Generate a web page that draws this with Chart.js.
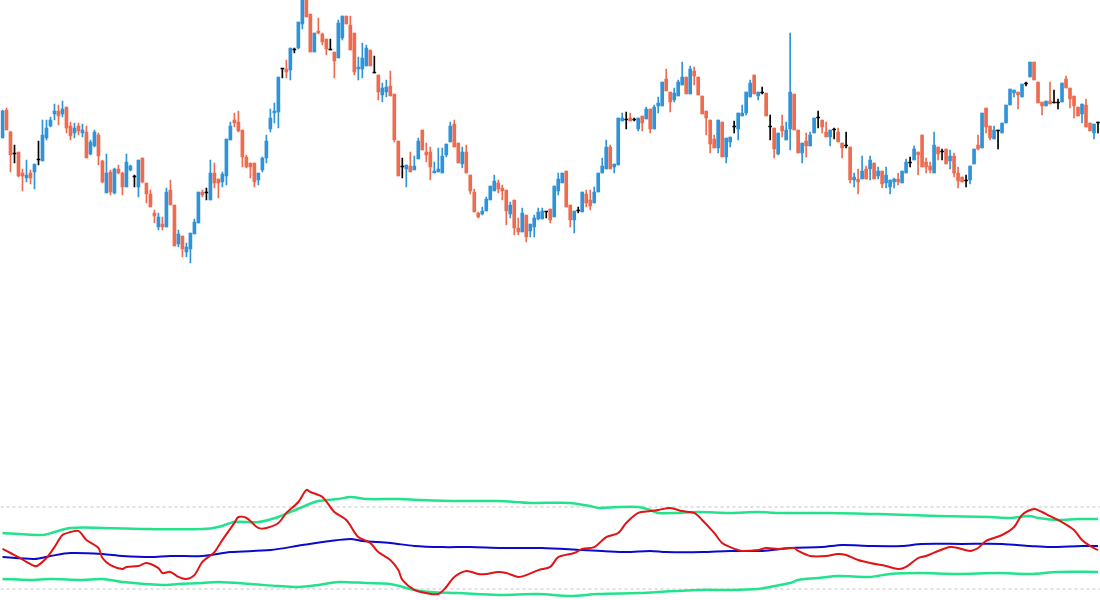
<!DOCTYPE html>
<html>
<head>
<meta charset="utf-8">
<script src="https://cdn.jsdelivr.net/npm/chart.js@4.4.1/dist/chart.umd.min.js"></script>
<style>
  html, body { margin: 0; padding: 0; background: #ffffff; }
  #wrap { width: 1100px; height: 600px; position: relative; }
</style>
</head>
<body>
<div id="wrap"><canvas id="grafica"></canvas></div>
<script>
// precio en puntos (velas)
const opens = [462,490,468,446,448,427,422,427,428,440,439,462,474,486,489,486,493,474,467,474,467,468,446,454,465,439,407,428,407,431,427,413,430,423,413,442,417,406,387,373,376,373,410,395,356,364,348,351,366,377,408,407,400,427,421,418,424,460,480,478,470,443,437,437,420,430,442,471,487,488,531,531,530,550,552,576,600,586,548,569,566,561,550,548,542,562,584,575,567,531,531,534,550,527,525,505,508,514,506,459,433,431,434,430,441,470,448,448,427,428,427,445,458,476,457,436,448,425,408,387,386,389,400,409,417,412,410,386,400,372,368,385,369,373,381,381,388,391,383,409,417,429,395,380,389,388,406,400,397,408,427,431,453,433,435,479,480,482,480,471,484,481,491,471,494,494,521,508,500,504,515,523,506,529,523,504,489,480,461,452,478,443,458,473,471,484,487,503,525,504,507,507,473,472,446,474,460,471,506,470,447,459,454,467,482,480,468,463,470,468,457,454,453,420,421,421,431,431,437,424,429,417,413,418,421,417,427,437,440,448,465,438,434,427,453,448,451,439,444,427,423,419,420,436,455,452,492,474,461,469,467,477,495,507,508,503,516,523,538,518,498,494,499,497,497,498,521,512,504,493,486,495,477,467,477];
const highs = [490,492,469,455,448,431,440,430,436,459,480,480,483,496,495,499,493,478,477,477,476,474,460,470,467,440,446,430,432,435,428,446,435,425,440,442,417,410,390,387,383,412,420,395,370,364,357,367,381,408,410,412,440,437,421,428,461,478,487,489,470,445,437,437,427,443,465,491,497,523,531,540,552,552,578,600,600,586,567,582,567,561,561,548,580,584,584,584,567,543,557,555,550,544,525,517,520,529,506,459,442,435,448,444,462,470,457,453,438,452,452,456,478,480,457,453,455,425,411,388,393,403,414,425,420,415,410,398,400,382,392,385,376,385,392,392,388,391,414,427,427,429,395,389,393,408,410,410,413,427,442,460,455,436,482,487,488,487,482,482,484,493,491,495,503,518,531,508,512,520,538,523,534,533,523,504,489,480,465,480,478,462,463,479,487,495,508,520,525,508,513,507,485,472,467,485,478,567,506,470,457,467,468,482,489,480,478,470,472,472,457,468,453,427,431,444,434,444,437,433,429,433,420,422,427,429,441,443,454,448,465,442,438,468,453,451,451,450,447,433,423,425,434,451,465,487,492,474,474,470,477,495,511,510,508,516,518,538,538,518,498,499,518,510,501,517,524,512,504,493,496,501,477,476,478];
const lows = [462,470,428,437,423,409,418,416,411,435,439,460,473,480,475,483,467,460,462,465,463,442,445,453,435,417,407,405,406,426,405,413,429,413,403,417,397,393,377,370,370,373,395,354,353,343,343,337,366,377,403,400,400,412,402,413,415,460,473,468,433,432,422,413,415,428,437,468,477,472,522,522,520,547,551,571,583,548,548,566,555,545,550,522,542,560,576,550,525,520,522,534,534,527,500,498,503,504,458,424,422,413,428,430,441,450,438,420,427,428,427,443,458,453,437,432,427,406,388,382,385,389,400,409,407,400,375,382,365,365,368,358,363,363,380,381,382,377,383,405,417,393,373,367,387,388,393,390,397,408,427,431,431,427,435,479,471,479,479,469,469,481,467,471,487,494,509,488,498,504,515,506,506,515,505,486,465,447,452,447,443,437,453,467,460,484,485,503,506,500,506,484,460,442,445,463,460,450,470,447,437,443,454,467,472,467,463,454,461,458,442,452,417,413,406,421,421,420,421,421,412,412,406,412,415,417,427,433,440,425,433,427,427,427,440,440,436,431,423,412,418,413,416,436,450,452,467,460,461,451,467,477,495,503,491,503,514,523,520,497,485,494,496,497,491,498,512,492,482,484,477,473,469,461,467];
const closes = [489,470,445,446,424,424,425,422,436,440,465,472,480,489,484,491,472,464,472,469,470,442,458,468,444,418,427,408,431,427,413,438,434,423,440,418,406,393,384,383,373,408,395,354,366,351,353,367,378,408,405,407,427,417,417,426,461,474,477,469,443,433,433,418,427,442,459,482,489,523,531,528,552,550,578,600,583,548,567,567,558,551,550,539,577,584,576,550,528,533,542,552,534,527,508,512,513,504,460,424,433,435,428,434,459,450,445,433,429,431,444,456,474,453,437,448,427,409,388,383,389,401,414,419,411,409,389,395,372,368,387,363,376,382,388,389,388,380,414,421,427,393,380,389,389,408,397,394,408,427,434,453,431,436,482,482,480,479,480,482,477,491,471,493,497,518,509,498,507,518,523,506,531,524,505,486,482,456,452,480,443,462,463,473,487,487,508,517,506,508,507,484,473,451,467,469,470,508,470,447,457,454,465,482,482,473,463,470,470,458,452,454,420,423,418,429,421,440,421,429,416,425,420,421,418,429,438,437,451,445,433,433,430,455,446,448,436,444,427,419,418,419,434,451,451,487,473,462,470,469,477,495,511,510,505,516,516,538,520,497,494,499,496,497,497,517,512,501,494,484,496,473,469,476,477];

// indicador (panel inferior): posicion de vela y valor
const rsiX = [0,2,4,6,8,9,11,13,15,17,19,21,24,25,27,30,31,34,36,39,40,42,44,46,48,50,53,55,58,59,61,64,66,69,71,74,76,77,80,83,86,88,89,92,94,97,99,100,103,106,109,111,113,116,119,121,124,126,129,131,134,137,139,143,145,148,151,154,156,159,162,164,167,170,173,175,178,180,182,184,185,189,191,194,198,199,202,206,209,211,214,217,221,224,226,229,231,234,237,239,242,244,246,250,253,255,258,260,262,265,268,270,272,274];
const rsiY = [49.6,47.8,46.0,43.9,42.1,42.5,45.6,50.4,55.7,57.0,57.5,53.5,50.0,45.6,42.5,40.8,41.7,42.1,43.4,41.2,39.0,39.5,37.3,36.4,38.1,43.9,48.2,53.5,61.0,63.6,63.2,58.8,58.8,61.0,65.4,70.2,75.5,74.6,72.4,65.8,62.3,57.0,54.8,52.2,48.2,44.7,40.3,36.0,31.6,30.2,29.8,32.9,37.3,39.9,38.6,38.6,39.5,39.0,37.3,38.1,40.3,41.7,46.0,47.8,49.6,50.4,54.8,56.6,61.0,65.4,66.2,66.7,67.6,66.2,65.4,62.3,56.6,52.2,50.4,49.1,48.7,49.1,50.0,49.6,50.0,48.7,46.5,46.5,47.4,46.9,44.7,43.4,42.1,40.8,41.7,45.6,46.5,48.7,50.4,50.0,48.7,50.0,53.1,55.7,59.2,64.5,67.1,65.8,64.0,61.4,57.9,53.5,50.9,49.1];
const baseX = [0,8,12,17,25,30,37,42,50,57,67,75,82,87,90,97,103,110,117,125,135,145,150,156,162,166,175,182,190,197,205,210,217,225,230,240,250,257,262,270,274];
const baseY = [46.0,45.2,46.5,47.8,47.4,46.5,46.0,46.5,46.5,48.2,49.1,51.3,53.1,54.0,53.1,52.2,50.9,50.4,50.4,50.0,50.0,49.1,48.7,48.2,48.7,48.2,48.2,48.7,48.7,50.0,50.4,51.3,50.9,50.9,51.8,51.8,51.8,50.9,50.4,50.9,50.9];
const upperX = [0,10,13,17,25,37,50,54,58,64,69,75,79,84,87,91,99,104,114,124,132,142,147,149,154,159,162,164,169,174,182,189,194,207,219,234,247,252,257,259,264,269,274];
const upperY = [56.6,55.7,57.0,58.8,58.8,58.3,58.3,59.2,61.4,61.4,63.6,68.0,70.6,71.5,72.4,71.5,71.5,71.1,70.6,70.6,69.8,69.8,68.4,67.6,68.0,68.0,66.7,65.4,65.4,65.8,65.4,65.8,65.4,65.4,64.9,64.0,63.6,63.2,64.0,63.2,62.3,62.7,62.7];
const lowerX = [0,7,12,20,25,30,40,44,50,54,62,69,74,79,84,91,97,103,107,114,124,134,142,149,159,164,174,182,189,192,197,199,204,209,217,222,229,239,249,257,264,274];
const lowerY = [36.4,36.0,36.4,36.0,36.4,35.1,33.8,34.2,34.6,35.1,34.2,33.3,32.9,33.8,35.1,34.6,34.2,31.6,30.7,30.2,29.4,29.8,28.9,29.8,30.2,30.7,31.6,31.6,32.0,32.9,34.6,36.0,36.8,37.7,37.3,38.6,39.0,38.6,39.0,38.6,39.5,39.5];
const niveles = [68, 32];

const AZUL = '#2E93D9';
const ROJO = '#EE6B4F';
const NEGRO = '#000000';

const etiquetas = opens.map((_, i) => String(i + 1));
const colores = opens.map((o, i) => {
  if(o === closes[i]) return NEGRO;
  return closes[i] > o ? AZUL : ROJO;
});

function puntos(xs, ys){
  return xs.map((x, i) => ({ x, y: ys[i] }));
}

function linea(data, color, ancho, orden){
  return {
    type: 'line',
    data,
    xAxisID: 'x2',
    yAxisID: 'y2',
    borderColor: color,
    borderWidth: ancho,
    pointRadius: 0,
    tension: 0.3,
    fill: false,
    order: orden
  };
}

const n = opens.length;
const lineasNivel = niveles.map(v => ({
  type: 'line',
  data: [{ x: -0.5, y: v }, { x: n - 0.5, y: v }],
  xAxisID: 'x2',
  yAxisID: 'y2',
  borderColor: '#C4C4C4',
  borderWidth: 1,
  borderDash: [3, 3],
  pointRadius: 0,
  order: 9
}));

new Chart(document.getElementById('grafica'), {
  data: {
    labels: etiquetas,
    datasets: [
      {
        type: 'bar',
        data: opens.map((o, i) => [o, closes[i]]),
        backgroundColor: colores,
        borderWidth: 0,
        barThickness: 3,
        minBarLength: 1,
        grouped: false,
        xAxisID: 'x',
        yAxisID: 'y',
        order: 1
      },
      {
        type: 'bar',
        data: lows.map((l, i) => [l, highs[i]]),
        backgroundColor: colores,
        borderWidth: 0,
        barThickness: 1,
        grouped: false,
        xAxisID: 'x',
        yAxisID: 'y',
        order: 2
      },
      ...lineasNivel,
      linea(puntos(lowerX, lowerY), '#22E38B', 2.5, 5),
      linea(puntos(upperX, upperY), '#22E38B', 2.5, 5),
      linea(puntos(baseX, baseY), '#0A0ACF', 2, 4),
      linea(puntos(rsiX, rsiY), '#E01414', 2, 3)
    ]
  },
  options: {
    responsive: true,
    maintainAspectRatio: false,
    animation: false,
    layout: { padding: { left: 0.5, right: 0, top: 0, bottom: 0 } },
    plugins: { legend: { display: false }, tooltip: { enabled: false } },
    scales: {
      x: { type: 'category', display: false, offset: true, grid: { display: false } },
      x2: { type: 'linear', display: false, min: -0.5, max: n - 0.5 },
      y: { display: false, min: 0, max: 600 },
      y2: { display: false, min: 27.17, max: 290.59 }
    }
  }
});
</script>
</body>
</html>
